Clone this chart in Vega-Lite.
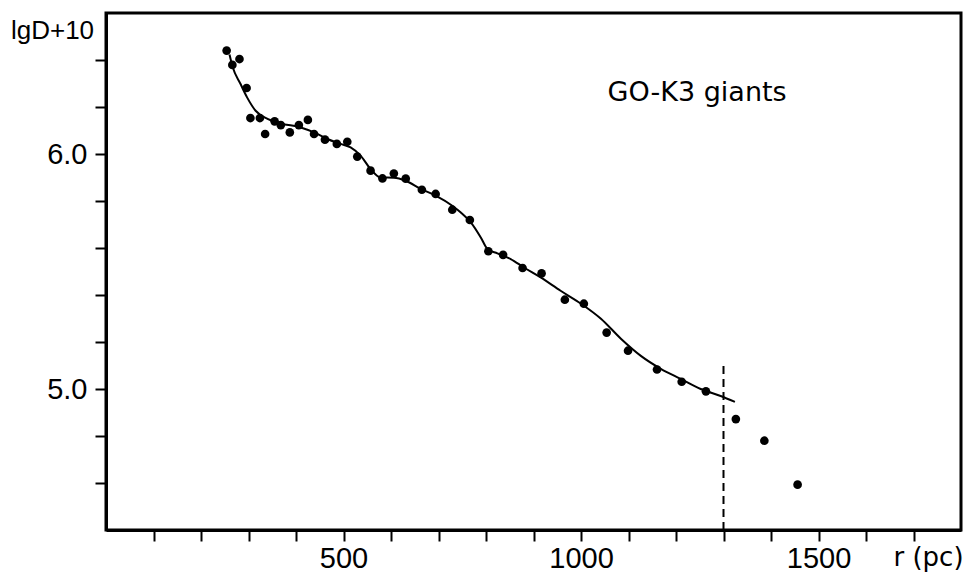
{
  "$schema": "https://vega.github.io/schema/vega-lite/v6.json",
  "autosize": {"type": "none"},
  "padding": {"left": 106, "top": 13, "right": 13, "bottom": 43},
  "width": 855,
  "height": 517,
  "background": "white",
  "config": {
    "view": {"stroke": "black", "strokeWidth": 3},
    "axis": {
      "grid": false,
      "domainColor": "black",
      "domainWidth": 3,
      "tickColor": "black",
      "tickWidth": 2,
      "tickSize": 11,
      "labelColor": "black",
      "titleColor": "black",
      "labelOverlap": false,
      "labelFlush": false
    }
  },
  "datasets": {
    "points": [
      {"r": 254, "lgD": 6.440}, {"r": 266, "lgD": 6.379}, {"r": 281, "lgD": 6.404},
      {"r": 296, "lgD": 6.281}, {"r": 304, "lgD": 6.153}, {"r": 324, "lgD": 6.153},
      {"r": 335, "lgD": 6.085}, {"r": 355, "lgD": 6.139}, {"r": 368, "lgD": 6.123},
      {"r": 387, "lgD": 6.092}, {"r": 406, "lgD": 6.123}, {"r": 425, "lgD": 6.145},
      {"r": 438, "lgD": 6.085}, {"r": 461, "lgD": 6.061}, {"r": 486, "lgD": 6.043},
      {"r": 508, "lgD": 6.052}, {"r": 529, "lgD": 5.989}, {"r": 557, "lgD": 5.929},
      {"r": 582, "lgD": 5.896}, {"r": 606, "lgD": 5.917}, {"r": 631, "lgD": 5.895},
      {"r": 665, "lgD": 5.848}, {"r": 694, "lgD": 5.830}, {"r": 729, "lgD": 5.763},
      {"r": 766, "lgD": 5.719}, {"r": 805, "lgD": 5.586}, {"r": 836, "lgD": 5.571},
      {"r": 877, "lgD": 5.515}, {"r": 917, "lgD": 5.492}, {"r": 966, "lgD": 5.380},
      {"r": 1006, "lgD": 5.363}, {"r": 1054, "lgD": 5.240}, {"r": 1099, "lgD": 5.163},
      {"r": 1160, "lgD": 5.083}, {"r": 1212, "lgD": 5.031}, {"r": 1263, "lgD": 4.990},
      {"r": 1326, "lgD": 4.872}, {"r": 1386, "lgD": 4.780}, {"r": 1456, "lgD": 4.593}
    ],
    "curve": [
      {"r": 260, "lgD": 6.423}, {"r": 266.5, "lgD": 6.371}, {"r": 283, "lgD": 6.299},
      {"r": 297, "lgD": 6.241}, {"r": 315, "lgD": 6.184}, {"r": 340, "lgD": 6.149},
      {"r": 368, "lgD": 6.130}, {"r": 410, "lgD": 6.113}, {"r": 438, "lgD": 6.092},
      {"r": 466, "lgD": 6.064}, {"r": 494, "lgD": 6.043}, {"r": 515, "lgD": 6.028},
      {"r": 536, "lgD": 5.993}, {"r": 557, "lgD": 5.936}, {"r": 578, "lgD": 5.900},
      {"r": 606, "lgD": 5.899}, {"r": 631, "lgD": 5.886}, {"r": 662, "lgD": 5.852},
      {"r": 694, "lgD": 5.823}, {"r": 729, "lgD": 5.780}, {"r": 747, "lgD": 5.751},
      {"r": 768, "lgD": 5.709}, {"r": 789, "lgD": 5.645}, {"r": 803, "lgD": 5.596},
      {"r": 824, "lgD": 5.577}, {"r": 852, "lgD": 5.553}, {"r": 880, "lgD": 5.517},
      {"r": 915, "lgD": 5.475}, {"r": 957, "lgD": 5.418}, {"r": 1000, "lgD": 5.363},
      {"r": 1042, "lgD": 5.299}, {"r": 1084, "lgD": 5.214}, {"r": 1126, "lgD": 5.141},
      {"r": 1168, "lgD": 5.086}, {"r": 1210, "lgD": 5.043}, {"r": 1252, "lgD": 5.000},
      {"r": 1294, "lgD": 4.970}, {"r": 1324, "lgD": 4.945}
    ],
    "cut": [{"r": 1300, "lgD": 4.4, "lgD2": 5.11}],
    "note": [{"r": 1056, "lgD": 6.227, "label": "GO-K3 giants"}]
  },
  "encoding": {
    "x": {
      "field": "r",
      "type": "quantitative",
      "scale": {"domain": [0, 1800], "nice": false, "zero": false},
      "axis": {
        "values": [100, 200, 300, 400, 500, 600, 700, 800, 900, 1000, 1100, 1200, 1300, 1400, 1500, 1600, 1700],
        "labelExpr": "datum.value % 500 === 0 ? datum.value : ''",
        "labelFont": "Liberation Sans",
        "labelFontSize": 29,
        "labelPadding": 3,
        "labelDx": 4,
        "title": "r (pc)",
        "titleFont": "DejaVu Sans",
        "titleFontSize": 26,
        "titleFontWeight": "normal",
        "titleX": 822,
        "titleY": 27,
        "titleAlign": "center",
        "titleBaseline": "middle"
      }
    },
    "y": {
      "field": "lgD",
      "type": "quantitative",
      "scale": {"domain": [4.4, 6.6], "nice": false, "zero": false},
      "axis": {
        "values": [4.6, 4.8, 5.0, 5.2, 5.4, 5.6, 5.8, 6.0, 6.2, 6.4],
        "labelExpr": "(datum.value === 5 || datum.value === 6) ? format(datum.value, '.1f') : ''",
        "labelFont": "Liberation Sans",
        "labelFontSize": 29,
        "labelPadding": 8,
        "labelDy": 4,
        "title": "lgD+10",
        "titleAngle": 0,
        "titleFont": "Liberation Sans",
        "titleFontSize": 26,
        "titleFontWeight": "normal",
        "titleX": -54,
        "titleY": 17,
        "titleAlign": "center",
        "titleBaseline": "middle"
      }
    }
  },
  "layer": [
    {
      "data": {"name": "curve"},
      "mark": {"type": "line", "interpolate": "monotone", "color": "black", "strokeWidth": 2}
    },
    {
      "data": {"name": "points"},
      "mark": {"type": "circle", "color": "black", "opacity": 1, "size": 75}
    },
    {
      "data": {"name": "cut"},
      "mark": {"type": "rule", "color": "black", "strokeWidth": 2, "strokeDash": [8, 5]},
      "encoding": {"y2": {"field": "lgD2"}}
    },
    {
      "data": {"name": "note"},
      "mark": {"type": "text", "align": "left", "baseline": "alphabetic", "font": "DejaVu Sans", "fontSize": 27, "color": "black"},
      "encoding": {"text": {"field": "label"}}
    }
  ]
}
